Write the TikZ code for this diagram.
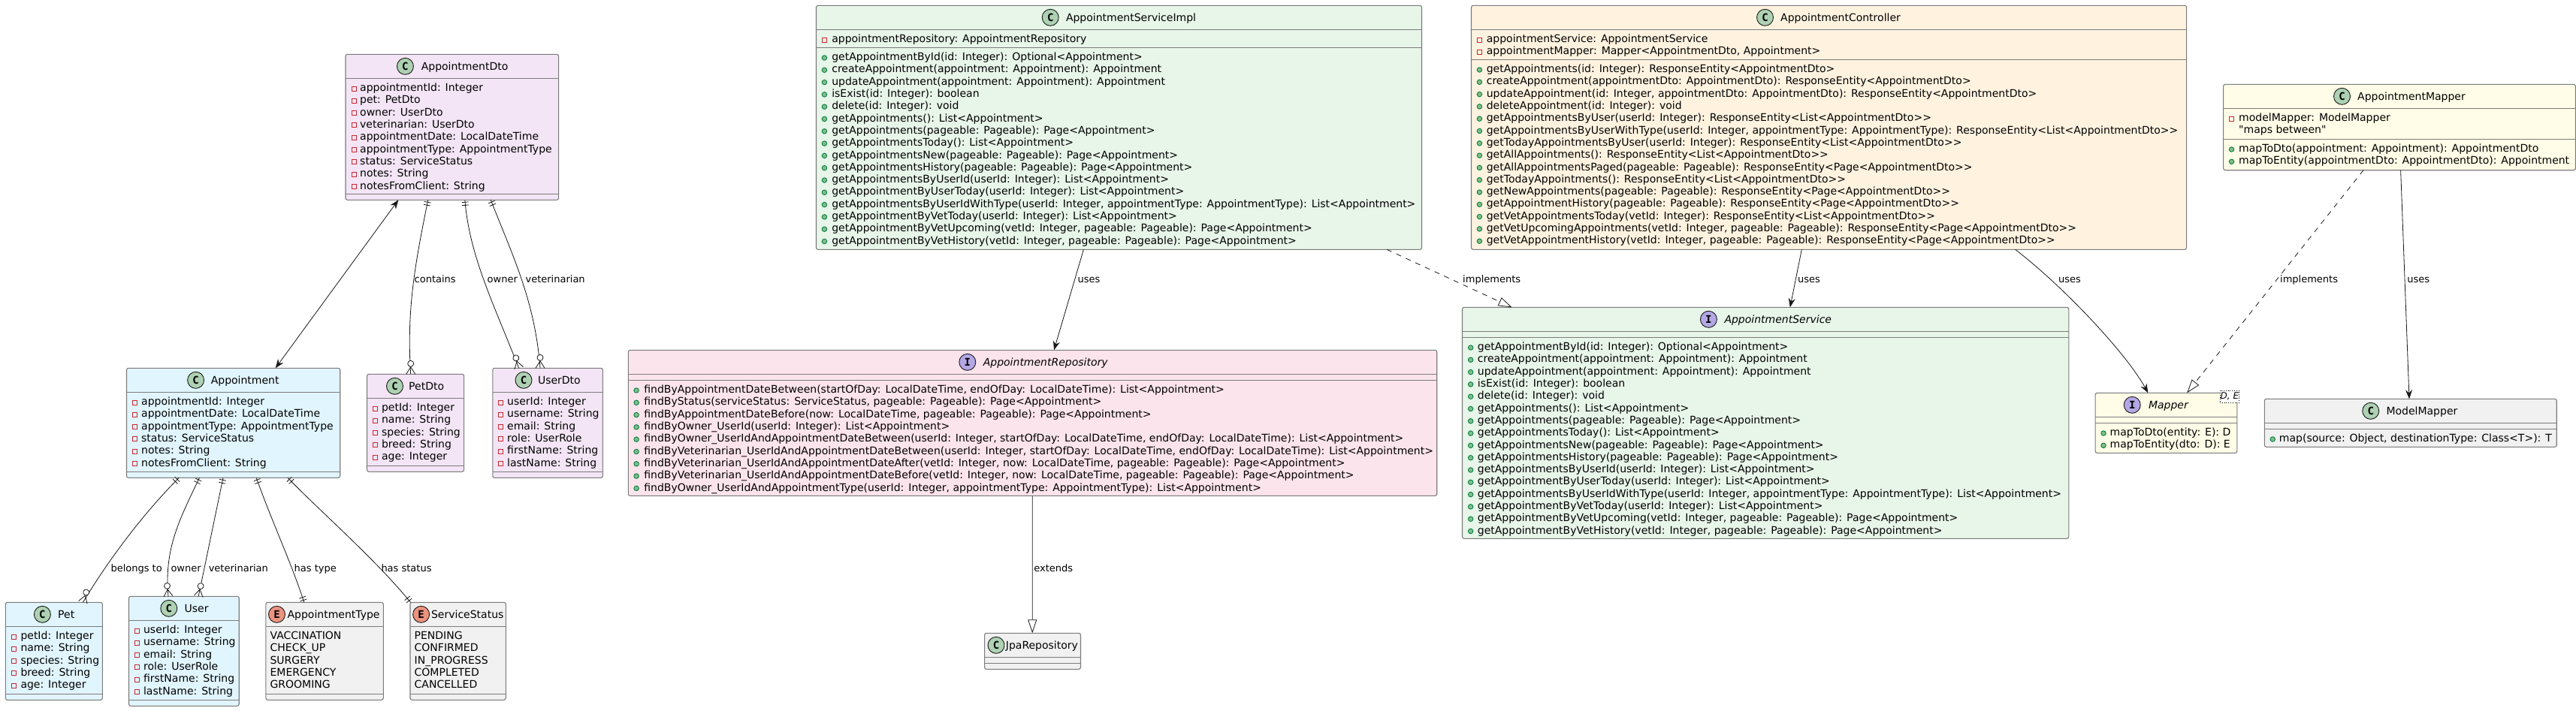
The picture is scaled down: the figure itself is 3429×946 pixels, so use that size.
\documentclass[tikz,border=0pt]{standalone}
\usepackage{fontspec}
\usetikzlibrary{arrows.meta,calc}
\newfontfamily\umlfont{DejaVu Sans}
\newfontfamily\umlmono{DejaVu Sans Mono}
\definecolor{cdto}{HTML}{F3E5F5}
\definecolor{centity}{HTML}{E1F5FE}
\definecolor{cservice}{HTML}{E8F5E9}
\definecolor{crepo}{HTML}{FCE4EC}
\definecolor{cctrl}{HTML}{FFF3E0}
\definecolor{cmapper}{HTML}{FFFDE7}
\definecolor{cplain}{HTML}{F1F1F1}
\definecolor{cborder}{HTML}{7C7C7C}
\definecolor{cline}{HTML}{181818}
\definecolor{spotC}{HTML}{ADD1B2}
\definecolor{spotI}{HTML}{B4A7E5}
\definecolor{spotE}{HTML}{EB937F}
\definecolor{privred}{HTML}{C82930}
\definecolor{pubgreen}{HTML}{038048}
\definecolor{pubfill}{HTML}{84BE84}
\tikzset{
  classbox/.style={draw=cborder,line width=1.1pt,rectangle,rounded corners=2.5pt,inner sep=0pt,outer sep=0pt},
  divider/.style={draw=cborder,line width=1.1pt},
  spot/.style={circle,draw=cline,line width=.9pt,minimum size=22pt,inner sep=0pt,font=\umlmono\bfseries\fontsize{14}{14}\selectfont},
  titletext/.style={anchor=base west,inner sep=0pt,font=\umlfont\fontsize{14}{16}\selectfont},
  ititletext/.style={anchor=base west,inner sep=0pt,font=\umlfont\itshape\fontsize{14}{16}\selectfont},
  member/.style={anchor=base west,inner sep=0pt,font=\umlfont\fontsize{14}{16}\selectfont},
  conlabel/.style={anchor=base west,inner sep=0pt,font=\umlfont\fontsize{13}{15}\selectfont},
  privmark/.style={rectangle,draw=privred,line width=.9pt,minimum size=6pt,inner sep=0pt},
  pubmark/.style={circle,draw=pubgreen,fill=pubfill,line width=.9pt,minimum size=6.5pt,inner sep=0pt},
  nomark/.style={inner sep=0pt},
  conn/.style={draw=cline,line width=.8pt},
  dep/.style={conn,dash pattern=on 7pt off 7pt},
  headtip/.style={-{Stealth[length=12pt,width=9pt,inset=4pt]}},
  bothtip/.style={{Stealth[length=12pt,width=9pt,inset=4pt]}-{Stealth[length=12pt,width=9pt,inset=4pt]}},
  opentip/.style={-{Triangle[open,length=18pt,width=12pt,fill=white]}},
}
% id, x0, y0, x1, y1, fill, d1, d2
\newcommand\umlbox[8]{%
  \node[classbox,fill=#6,minimum width={#4-#2},minimum height={#5-#3}] (#1) at ({(#2+#4)/2},{(#3+#5)/2}) {};
  \draw[divider] (#2,#7) -- (#4,#7);
  \draw[divider] (#2,#8) -- (#4,#8);
}
% id, spot colour, letter, spot x, title x, top y, title style, title
\newcommand\umlhead[8]{%
  \node[spot,fill=#2] (#1-spot) at (#4,{#6+16}) {#3};
  \node[#7] (#1-title) at (#5,{#6+21}) {#8};
}
% id, mark style, mark x, text x, divider y, rows
\newcommand\memberrows[6]{%
  \foreach \mtext [count=\i] in {#6} {
    \node[#2] (#1-m\i) at (#3,{#5+1+16.3*\i-3.6}) {};
    \node[member] (#1-r\i) at (#4,{#5+1+16.3*\i}) {\mtext};
  }
}
% point on the box, angle away from the box
\newcommand\crowend[2]{%
  \begin{scope}[shift={#1},rotate=#2]
    \draw[conn] (0,-6) -- (9.5,0) -- (0,6);
    \draw[conn,fill=white] (14,0) circle[radius=4];
  \end{scope}
}
\newcommand\barend[2]{%
  \begin{scope}[shift={#1},rotate=#2]
    \draw[conn] (3,-4.5) -- (3,4.5) (7,-4.5) -- (7,4.5);
  \end{scope}
}
\begin{document}
\begin{tikzpicture}[x=1pt,y=-1pt]
\useasboundingbox[fill=white] (0,0) rectangle (3429,946);

% ---------- AppointmentDto
\umlbox{dto}{460}{72.3}{743.6}{266.3}{cdto}{104.3}{258.3}
\umlhead{dto}{spotC}{C}{539.4}{560.6}{72.3}{titletext}{AppointmentDto}
\memberrows{dto}{privmark}{471}{479}{104.3}{appointmentId: Integer,pet: PetDto,owner: UserDto,veterinarian: UserDto,appointmentDate: LocalDateTime,appointmentType: AppointmentType,status: ServiceStatus,notes: String,notesFromClient: String}

% ---------- Appointment
\umlbox{appt}{168.5}{490.3}{452.7}{636.3}{centity}{522.3}{628.3}
\umlhead{appt}{spotC}{C}{260.6}{280.6}{490.3}{titletext}{Appointment}
\memberrows{appt}{privmark}{179.4}{188}{522.3}{appointmentId: Integer,appointmentDate: LocalDateTime,appointmentType: AppointmentType,status: ServiceStatus,notes: String,notesFromClient: String}

% ---------- PetDto
\umlbox{petdto}{488.5}{498.3}{617.6}{628.3}{cdto}{530.3}{620.3}
\umlhead{petdto}{spotC}{C}{525.5}{544}{498.3}{titletext}{PetDto}
\memberrows{petdto}{privmark}{499.4}{507.9}{530.3}{petId: Integer,name: String,species: String,breed: String,age: Integer}

% ---------- UserDto
\umlbox{userdto}{655.8}{490.3}{802.4}{636.3}{cdto}{522.3}{628.3}
\umlhead{userdto}{spotC}{C}{697}{715.8}{490.3}{titletext}{UserDto}
\memberrows{userdto}{privmark}{666.7}{675}{522.3}{userId: Integer,username: String,email: String,role: UserRole,firstName: String,lastName: String}

% ---------- Pet
\umlbox{pet}{7.3}{802.3}{136.4}{932.3}{centity}{834.3}{924.3}
\umlhead{pet}{spotC}{C}{56.4}{77}{802.3}{titletext}{Pet}
\memberrows{pet}{privmark}{18.2}{27.3}{834.3}{petId: Integer,name: String,species: String,breed: String,age: Integer}

% ---------- User
\umlbox{user}{171.5}{794.3}{318.2}{940.3}{centity}{826.3}{932.3}
\umlhead{user}{spotC}{C}{224.8}{245.5}{794.3}{titletext}{User}
\memberrows{user}{privmark}{182.4}{190.9}{826.3}{userId: Integer,username: String,email: String,role: UserRole,firstName: String,lastName: String}

% ---------- AppointmentType
\umlbox{atype}{353.9}{802.3}{510.3}{932.3}{cplain}{834.3}{924.3}
\umlhead{atype}{spotE}{E}{368.5}{382.4}{802.3}{titletext}{AppointmentType}
\memberrows{atype}{nomark}{359.4}{359.4}{834.3}{VACCINATION,CHECK\_UP,SURGERY,EMERGENCY,GROOMING}

% ---------- ServiceStatus
\umlbox{sstatus}{546}{802.3}{673.3}{932.3}{cplain}{834.3}{924.3}
\umlhead{sstatus}{spotE}{E}{560.6}{573.9}{802.3}{titletext}{ServiceStatus}
\memberrows{sstatus}{nomark}{551.5}{551.5}{834.3}{PENDING,CONFIRMED,IN\_PROGRESS,COMPLETED,CANCELLED}

% ---------- AppointmentServiceImpl
\umlbox{impl}{1086.5}{7.3}{1892.5}{332.3}{cservice}{39.3}{63.3}
\umlhead{impl}{spotC}{C}{1398.2}{1418.8}{7.3}{titletext}{AppointmentServiceImpl}
\memberrows{impl-a}{privmark}{1097.4}{1107.1}{39.3}{appointmentRepository: AppointmentRepository}
\memberrows{impl}{pubmark}{1097.4}{1107.1}{63.3}{
  getAppointmentById(id: Integer): Optional<Appointment>,
  createAppointment(appointment: Appointment): Appointment,
  updateAppointment(appointment: Appointment): Appointment,
  isExist(id: Integer): boolean,
  delete(id: Integer): void,
  getAppointments(): List<Appointment>,
  getAppointments(pageable: Pageable): Page<Appointment>,
  getAppointmentsToday(): List<Appointment>,
  getAppointmentsNew(pageable: Pageable): Page<Appointment>,
  getAppointmentsHistory(pageable: Pageable): Page<Appointment>,
  getAppointmentsByUserId(userId: Integer): List<Appointment>,
  getAppointmentByUserToday(userId: Integer): List<Appointment>,
  {getAppointmentsByUserIdWithType(userId: Integer, appointmentType: AppointmentType): List<Appointment>},
  getAppointmentByVetToday(userId: Integer): List<Appointment>,
  {getAppointmentByVetUpcoming(vetId: Integer, pageable: Pageable): Page<Appointment>},
  {getAppointmentByVetHistory(vetId: Integer, pageable: Pageable): Page<Appointment>}}

% ---------- AppointmentController
\umlbox{ctrl}{1958.5}{7.3}{2910.6}{332.3}{cctrl}{39.3}{79.3}
\umlhead{ctrl}{spotC}{C}{2349.5}{2370}{7.3}{titletext}{AppointmentController}
\memberrows{ctrl-a}{privmark}{1969.4}{1978.6}{39.3}{appointmentService: AppointmentService,{appointmentMapper: Mapper<AppointmentDto, Appointment>}}
\memberrows{ctrl}{pubmark}{1969.4}{1978.6}{79.3}{
  getAppointments(id: Integer): ResponseEntity<AppointmentDto>,
  createAppointment(appointmentDto: AppointmentDto): ResponseEntity<AppointmentDto>,
  {updateAppointment(id: Integer, appointmentDto: AppointmentDto): ResponseEntity<AppointmentDto>},
  deleteAppointment(id: Integer): void,
  getAppointmentsByUser(userId: Integer): ResponseEntity<List<AppointmentDto>>,
  {getAppointmentsByUserWithType(userId: Integer, appointmentType: AppointmentType): ResponseEntity<List<AppointmentDto>>},
  getTodayAppointmentsByUser(userId: Integer): ResponseEntity<List<AppointmentDto>>,
  getAllAppointments(): ResponseEntity<List<AppointmentDto>>,
  getAllAppointmentsPaged(pageable: Pageable): ResponseEntity<Page<AppointmentDto>>,
  getTodayAppointments(): ResponseEntity<List<AppointmentDto>>,
  getNewAppointments(pageable: Pageable): ResponseEntity<Page<AppointmentDto>>,
  getAppointmentHistory(pageable: Pageable): ResponseEntity<Page<AppointmentDto>>,
  getVetAppointmentsToday(vetId: Integer): ResponseEntity<List<AppointmentDto>>,
  {getVetUpcomingAppointments(vetId: Integer, pageable: Pageable): ResponseEntity<Page<AppointmentDto>>},
  {getVetAppointmentHistory(vetId: Integer, pageable: Pageable): ResponseEntity<Page<AppointmentDto>>}}

% ---------- AppointmentMapper
\umlbox{amapper}{2959.6}{112.3}{3428.3}{226.7}{cmapper}{144.3}{185.3}
\umlhead{amapper}{spotC}{C}{3117.5}{3138}{112.3}{titletext}{AppointmentMapper}
\memberrows{amapper-a}{privmark}{2970.5}{2980}{144.3}{modelMapper: ModelMapper}
\memberrows{amapper-b}{nomark}{2970.5}{2980}{160.6}{"maps between"}
\memberrows{amapper}{pubmark}{2970.5}{2980}{185.3}{mapToDto(appointment: Appointment): AppointmentDto,mapToEntity(appointmentDto: AppointmentDto): Appointment}

% ---------- AppointmentRepository
\umlbox{repo}{836.4}{466.3}{1912.7}{660.3}{crepo}{498.3}{506.3}
\umlhead{repo}{spotI}{I}{1287.8}{1308.6}{466.3}{ititletext}{AppointmentRepository}
\memberrows{repo}{pubmark}{847.1}{857.1}{506.3}{
  {findByAppointmentDateBetween(startOfDay: LocalDateTime, endOfDay: LocalDateTime): List<Appointment>},
  {findByStatus(serviceStatus: ServiceStatus, pageable: Pageable): Page<Appointment>},
  {findByAppointmentDateBefore(now: LocalDateTime, pageable: Pageable): Page<Appointment>},
  findByOwner\_UserId(userId: Integer): List<Appointment>,
  {findByOwner\_UserIdAndAppointmentDateBetween(userId: Integer, startOfDay: LocalDateTime, endOfDay: LocalDateTime): List<Appointment>},
  {findByVeterinarian\_UserIdAndAppointmentDateBetween(userId: Integer, startOfDay: LocalDateTime, endOfDay: LocalDateTime): List<Appointment>},
  {findByVeterinarian\_UserIdAndAppointmentDateAfter(vetId: Integer, now: LocalDateTime, pageable: Pageable): Page<Appointment>},
  {findByVeterinarian\_UserIdAndAppointmentDateBefore(vetId: Integer, now: LocalDateTime, pageable: Pageable): Page<Appointment>},
  {findByOwner\_UserIdAndAppointmentType(userId: Integer, appointmentType: AppointmentType): List<Appointment>}}

% ---------- JpaRepository
\umlbox{jpa}{1310.6}{843.3}{1438.5}{891.3}{cplain}{875.3}{883.3}
\umlhead{jpa}{spotC}{C}{1326}{1338.7}{843.3}{titletext}{JpaRepository}

% ---------- AppointmentService
\umlbox{service}{1946.5}{409.3}{2753.8}{717.3}{cservice}{441.3}{449.3}
\umlhead{service}{spotI}{I}{2274.4}{2295.3}{409.3}{ititletext}{AppointmentService}
\memberrows{service}{pubmark}{1957.6}{1966.7}{449.3}{
  getAppointmentById(id: Integer): Optional<Appointment>,
  createAppointment(appointment: Appointment): Appointment,
  updateAppointment(appointment: Appointment): Appointment,
  isExist(id: Integer): boolean,
  delete(id: Integer): void,
  getAppointments(): List<Appointment>,
  getAppointments(pageable: Pageable): Page<Appointment>,
  getAppointmentsToday(): List<Appointment>,
  getAppointmentsNew(pageable: Pageable): Page<Appointment>,
  getAppointmentsHistory(pageable: Pageable): Page<Appointment>,
  getAppointmentsByUserId(userId: Integer): List<Appointment>,
  getAppointmentByUserToday(userId: Integer): List<Appointment>,
  {getAppointmentsByUserIdWithType(userId: Integer, appointmentType: AppointmentType): List<Appointment>},
  getAppointmentByVetToday(userId: Integer): List<Appointment>,
  {getAppointmentByVetUpcoming(vetId: Integer, pageable: Pageable): Page<Appointment>},
  {getAppointmentByVetHistory(vetId: Integer, pageable: Pageable): Page<Appointment>}}

% ---------- Mapper
\umlbox{mapper}{2789.1}{523.3}{2977.9}{603.3}{cmapper}{555.3}{563.3}
\umlhead{mapper}{spotI}{I}{2838.2}{2859.8}{523.3}{ititletext}{Mapper}
\memberrows{mapper}{pubmark}{2800}{2808.5}{563.3}{mapToDto(entity: E): D,mapToEntity(dto: D): E}
\node[draw=black,dotted,line width=.8pt,fill=white,rectangle,inner sep=0pt,minimum width=25.7pt,minimum height=16pt,font=\umlfont\itshape\fontsize{12}{14}\selectfont] (mapper-generic) at (2967.85,528.3) {D, E};

% ---------- ModelMapper
\umlbox{mmapper}{3014.3}{531.3}{3403.2}{595.3}{cplain}{563.3}{571.3}
\umlhead{mmapper}{spotC}{C}{3155.7}{3176.3}{531.3}{titletext}{ModelMapper}
\memberrows{mmapper}{pubmark}{3025.2}{3033.7}{571.3}{{map(source: Object, destinationType: Class<T>): T}}

% ========== connectors
\draw[conn,bothtip] ([xshift=70.3pt]dto.south west) -- ([xshift=198.2pt]appt.north west);

\draw[conn] ([xshift=109.7pt]dto.south west) .. controls (553,350) and (541,410) .. ([xshift=58.2pt]petdto.north west);
\barend{([xshift=109.7pt]dto.south west)}{-101}
\crowend{([xshift=58.2pt]petdto.north west)}{90}

\draw[conn] ([xshift=158.8pt]dto.south west) .. controls (625,340) and (655,400) .. ([xshift=34.9pt]userdto.north west);
\barend{([xshift=158.8pt]dto.south west)}{-85}
\crowend{([xshift=34.9pt]userdto.north west)}{106}

\draw[conn] ([xshift=193.3pt]dto.south west) .. controls (682,340) and (712,400) .. ([xshift=63.2pt]userdto.north west);
\barend{([xshift=193.3pt]dto.south west)}{-68}
\crowend{([xshift=63.2pt]userdto.north west)}{90}

\draw[conn] ([xshift=69.7pt]appt.south west) .. controls (190,685) and (145,745) .. ([xshift=103.1pt]pet.north west);
\barend{([xshift=69.7pt]appt.south west)}{-135}
\crowend{([xshift=103.1pt]pet.north west)}{72}

\draw[conn] ([xshift=97pt]appt.south west) .. controls (240,690) and (218,730) .. ([xshift=52.5pt]user.north west);
\barend{([xshift=97pt]appt.south west)}{-116}
\crowend{([xshift=52.5pt]user.north west)}{96}

\draw[conn] ([xshift=128.5pt]appt.south west) -- ([xshift=92.7pt]user.north west);
\barend{([xshift=128.5pt]appt.south west)}{-102}
\crowend{([xshift=92.7pt]user.north west)}{78}

\draw[conn] ([xshift=172.7pt]appt.south west) .. controls (360,690) and (388,750) .. ([xshift=50.9pt]atype.north west);
\barend{([xshift=172.7pt]appt.south west)}{-70}
\barend{([xshift=50.9pt]atype.north west)}{108}

\draw[conn] ([xshift=214.5pt]appt.south west) .. controls (425,680) and (500,745) .. ([xshift=.5pt]sstatus.north west);
\barend{([xshift=214.5pt]appt.south west)}{-46}
\barend{([xshift=.5pt]sstatus.north west)}{128}

\draw[conn,headtip] ([xshift=355.9pt]impl.south west) -- ([xshift=566.6pt]repo.north west);
\draw[dep,opentip] ([xshift=759.5pt]impl.south west) -- ([xshift=66pt]service.north west);
\draw[conn,opentip] ([xshift=537.8pt]repo.south west) -- ([xshift=63.6pt]jpa.north west);
\draw[conn,headtip] ([xshift=439.8pt]ctrl.south west) -- ([xshift=436.3pt]service.north west);
\draw[conn,headtip] ([xshift=724pt]ctrl.south west) .. controls (2745,380) and (2830,470) .. ([xshift=70.2pt]mapper.north west);
\draw[dep,opentip] ([xshift=186.4pt]amapper.south west) -- ([xshift=122.1pt]mapper.north west);
\draw[conn,headtip] ([xshift=236pt]amapper.south west) -- ([xshift=192.7pt]mmapper.north west);

% ========== connector labels
\node[conlabel] (l-contains) at (551.5,376) {contains};
\node[conlabel] (l-downer) at (648.5,376) {owner};
\node[conlabel] (l-dvet) at (699.4,376) {veterinarian};
\node[conlabel] (l-belongs) at (147.3,761.5) {belongs to};
\node[conlabel] (l-owner) at (227.3,761.5) {owner};
\node[conlabel] (l-vet) at (277.6,761.5) {veterinarian};
\node[conlabel] (l-type) at (391.5,761.5) {has type};
\node[conlabel] (l-status) at (507.3,761.5) {has status};
\node[conlabel] (l-uses1) at (1434.4,376) {uses};
\node[conlabel] (l-impl1) at (1947,376) {implements};
\node[conlabel] (l-uses2) at (2393,376) {uses};
\node[conlabel] (l-uses3) at (2740,376) {uses};
\node[conlabel] (l-impl2) at (3034.9,376) {implements};
\node[conlabel] (l-uses4) at (3204.2,376) {uses};
\node[conlabel] (l-extends) at (1376.2,761.5) {extends};
\end{tikzpicture}
\end{document}
